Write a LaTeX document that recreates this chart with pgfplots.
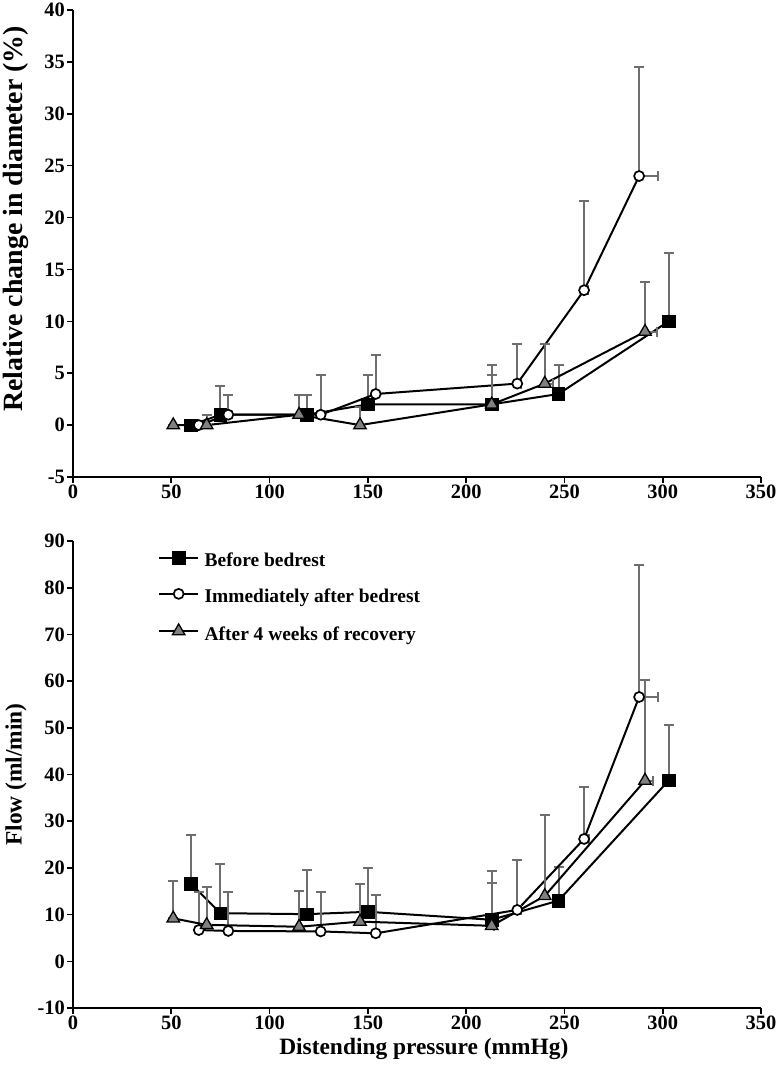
\documentclass[border=0pt]{standalone}
\usepackage{fontspec}
\setmainfont{Liberation Serif}
\usepackage{pgfplots}
\pgfplotsset{compat=1.18}
\usepackage{pgfplotstable}

\definecolor{errgray}{HTML}{6E6E6E}
\definecolor{trigray}{HTML}{808080}

% ---- top panel: relative change in diameter (%)
\pgfplotstableread{
x y ex ey
60 0 0 0
75 1 0 2.8
119 1 0 1.9
150 2 0 2.8
213 2 0 2.8
247 3 1 2.8
303 10 3 6.6
}\topBefore
\pgfplotstableread{
x y ex ey
64 0 0 0
79 1 0 1.9
126 1 0 3.8
154 3 0 3.8
226 4 2 3.8
260 13 2 8.6
288 24 9.5 10.5
}\topImm
\pgfplotstableread{
x y ex ey
51 0 0 0
68 0 0 1.0
115 1 0 1.9
146 0 0 1.7
213 2 1 3.8
240 4 4 3.8
291 9 6 4.8
}\topAfter

% ---- bottom panel: flow (ml/min)
\pgfplotstableread{
x y ex ey
60 16.6 0 10.5
75 10.3 0 10.6
119 10.1 0 9.5
150 10.6 0 9.3
213 8.9 0 10.5
247 13.0 1 7.3
303 38.7 2.5 11.8
}\botBefore
\pgfplotstableread{
x y ex ey
64 6.7 0 8.1
79 6.5 0 8.4
126 6.4 0 8.4
154 6.0 0 8.1
226 11.0 2 10.8
260 26.2 2.5 11.1
288 56.6 9.5 28.3
}\botImm
\pgfplotstableread{
x y ex ey
51 9.2 0 8.1
68 7.8 0 8.2
115 7.4 0 7.7
146 8.5 0 8.1
213 7.6 1 9.2
240 14.0 0 17.4
291 38.7 4 21.5
}\botAfter

\pgfplotsset{
  panel/.style={
    width=688bp, height=467bp, scale only axis,
    xmin=0, xmax=350, xtick distance=50,
    axis lines*=left,
    axis line style={line width=2.2bp, black},
    tick align=outside,
    major tick length=6bp,
    major tick style={line width=1.6bp, black},
    /pgf/number format/assume math mode=true,
    tick label style={font=\fontsize{20.5}{24}\selectfont\bfseries},
    yticklabel style={inner sep=2bp},
    xticklabel style={inner sep=2bp},
    label style={font=\fontsize{23.5}{27}\selectfont\bfseries},
    clip=false,
    legend cell align=left,
    legend image code/.code={%
      \draw[mark repeat=2,mark phase=2,#1] plot coordinates {(0bp,0.3em) (19.5bp,0.3em) (39bp,0.3em)};},
  },
  errs/.style={
    error bars/.cd,
      y dir=plus, y explicit,
      x dir=plus, x explicit,
      error mark=|,
      error bar style={errgray, line width=2bp, solid},
      error mark options={errgray, line width=2bp, mark size=5bp, solid},
  },
  sBefore/.style={black, line width=2bp, mark=square*, mark size=6.2bp,
    mark options={fill=black, draw=black, line width=0.6bp}},
  sImm/.style={black, line width=2bp, mark=*, mark size=5bp,
    mark options={fill=white, draw=black, line width=1.7bp}},
  sAfter/.style={black, line width=2bp, mark=triangle*, mark size=7.2bp,
    mark options={fill=trigray, draw=black, line width=1.3bp}},
}

\begin{document}
\begin{tikzpicture}
\path[use as bounding box] (-73bp,10bp) rectangle (704bp,-1064bp);

\begin{axis}[panel, at={(0,0)}, anchor=north west,
  ymin=-5, ymax=40, ytick distance=5,
  ylabel={Relative change in diameter (\%)},
  ylabel style={at={(axis description cs:-0.0828,0.553)}, anchor=center,
    font=\fontsize{28}{32}\selectfont\bfseries},
]
\addplot[sBefore, errs] table[x=x, y=y, x error=ex, y error=ey] {\topBefore};
\addplot[sImm, errs] table[x=x, y=y, x error=ex, y error=ey] {\topImm};
\addplot[sAfter, errs] table[x=x, y=y, x error=ex, y error=ey] {\topAfter};
\end{axis}

\begin{axis}[panel, at={(0,-531bp)}, anchor=north west,
  ymin=-10, ymax=90, ytick distance=10,
  ylabel={Flow (ml/min)},
  ylabel style={at={(axis description cs:-0.0828,0.5)}, anchor=center},
  xlabel={Distending pressure (mmHg)},
  xlabel style={at={(axis description cs:0.51,0)}, anchor=center, yshift=-41bp},
  legend style={at={(axis description cs:0.1235,0.978)}, anchor=north west,
    draw=none, fill=none, inner sep=0pt,
    font=\fontsize{19.5}{23}\selectfont\bfseries,
    row sep=18bp,
    nodes={inner sep=1.5bp},
    /tikz/every odd column/.append style={column sep=4bp}},
]
\addplot[sBefore, errs] table[x=x, y=y, x error=ex, y error=ey] {\botBefore};
\addlegendentry{Before bedrest}
\addplot[sImm, errs] table[x=x, y=y, x error=ex, y error=ey] {\botImm};
\addlegendentry{Immediately after bedrest}
\addplot[sAfter, errs] table[x=x, y=y, x error=ex, y error=ey] {\botAfter};
\addlegendentry{After 4 weeks of recovery}
\end{axis}
\end{tikzpicture}
\end{document}
